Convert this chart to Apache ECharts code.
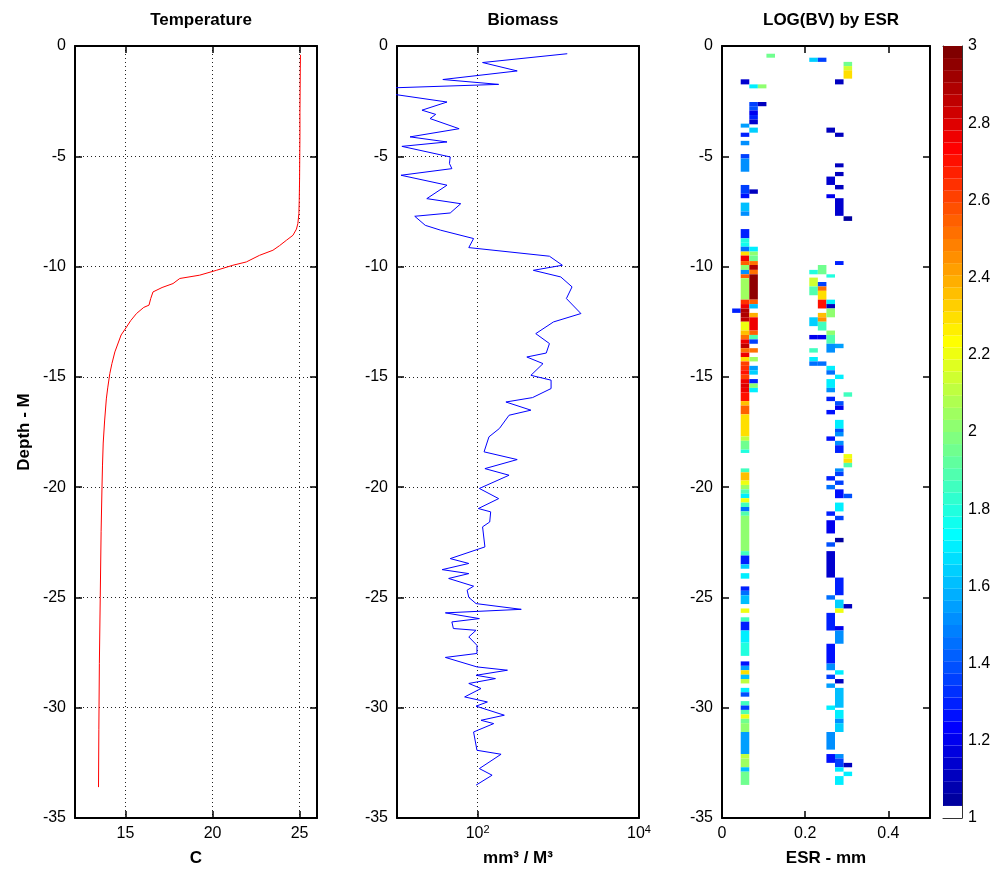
<!DOCTYPE html>
<html><head><meta charset="utf-8">
<script src="https://cdn.jsdelivr.net/npm/echarts@6/dist/echarts.min.js"></script>
<style>html,body{margin:0;padding:0;background:#fff}#c{width:999px;height:884px}</style>
</head><body><div id="c"></div>
<script>
// ---------------- DATA ----------------
const panelTitles = ['Temperature', 'Biomass', 'LOG(BV) by ESR'];
const depthTicks = {min: -35, max: 0, step: 5};
const tempTicks = [15, 20, 25];
const bioTicks = [100, 10000];
const esrTicks = [0, 0.2, 0.4];

// Temperature profile (depth in m, temperature in C)
const tempDepth = [0.4, 1, 2, 3, 4, 5, 6, 7, 7.6, 8.05, 8.3, 8.58, 8.81, 9.05, 9.26, 9.49, 9.79, 9.94, 10.17, 10.39, 10.54, 10.77, 10.95, 11.15, 11.45, 11.75, 11.85, 12.13, 12.45, 12.74, 13.1, 13.87, 14.4, 14.85, 15.5, 16, 17, 18, 19, 20, 22, 25, 28, 31, 33.6];
const tempValue = [25.05, 25.04, 25.03, 25.02, 25.02, 25.01, 25.0, 24.98, 24.96, 24.9, 24.82, 24.62, 24.24, 23.85, 23.47, 22.7, 21.94, 21.17, 20.22, 19.26, 18.12, 17.73, 17.1, 16.58, 16.45, 16.35, 16.05, 15.63, 15.3, 15.06, 14.75, 14.39, 14.22, 14.1, 13.98, 13.9, 13.8, 13.72, 13.68, 13.65, 13.6, 13.55, 13.5, 13.47, 13.45];

// Biomass profile (depth in m, mm^3 / M^3)
const bioDepth = [0.35, 0.75, 1.13, 1.52, 1.67, 1.74, 1.95, 2.54, 2.91, 3.10, 3.29, 3.75, 4.12, 4.35, 4.55, 5.03, 5.33, 5.56, 5.86, 6.31, 6.92, 7.15, 7.57, 7.72, 8.13, 8.35, 8.73, 9.14, 9.53, 9.94, 10.17, 10.47, 10.92, 11.45, 12.13, 12.51, 13.04, 13.49, 13.92, 14.10, 14.40, 14.93, 15.15, 15.53, 15.94, 16.14, 16.51, 16.74, 17.34, 17.72, 18.40, 18.75, 19.16, 19.46, 20.06, 20.52, 20.97, 21.12, 21.58, 21.80, 22.71, 23.24, 23.46, 23.74, 23.92, 24.14, 24.49, 24.67, 25.00, 25.28, 25.54, 25.70, 25.96, 26.11, 26.41, 26.49, 26.79, 27.17, 27.54, 27.72, 28.15, 28.30, 28.53, 28.68, 28.90, 29.13, 29.51, 29.74, 29.93, 30.34, 30.57, 30.72, 31.10, 31.93, 32.11, 32.76, 33.06, 33.51];
const bioValue = [1290, 115, 309, 37, 110, 182, 3.2, 41.7, 20.4, 30.2, 25.7, 58.9, 14.5, 41.7, 11.5, 45.7, 44.7, 47.9, 11.2, 41.7, 23.4, 61.7, 45.7, 16.6, 22.4, 34.7, 89, 77.6, 776, 1122, 490, 1072, 1479, 1259, 1905, 871, 525, 776, 708, 407, 646, 457, 813, 813, 479, 224, 457, 245, 186, 138, 120, 309, 123, 245, 105, 182, 102, 145, 141, 115, 123, 45.7, 77.6, 36.3, 77.6, 43.7, 89, 74, 77.6, 95.5, 347, 39.8, 105, 47.9, 50, 95.5, 77.6, 98, 98, 39.8, 98, 234, 95.5, 166, 77.6, 110, 69, 132, 95.5, 214, 110, 158, 89, 98, 195, 105, 151, 95.5];

// LOG(BV) by ESR: ESR bin centres (mm) and per-bin cells [depthTop, depthBottom, log10(BV)]
const ESR_BIN = 0.0206;
const esrCenters = [0.0347, 0.0553, 0.0759, 0.0965, 0.1171, 0.2201, 0.2407, 0.2613, 0.2819, 0.3025];
const cellsEsr0 = [[11.9, 12.1, 1.3]];
const cellsEsr1 = [[1.51,1.74,1.15],[3.52,3.70,1.55],[3.93,4.12,1.3],[4.30,4.50,1.5],[4.90,5.10,1.35],[5.10,5.70,1.5],[6.30,6.70,1.35],[6.70,6.90,1.25],[7.10,7.50,1.6],[7.50,7.70,1.5],[8.30,8.72,1.3],[8.72,8.92,1.8],[8.92,9.10,1.75],[9.10,9.32,1.45],[9.32,9.50,2.3],[9.50,9.75,2.75],[9.75,9.93,2.55],[9.93,10.15,2.0],[10.15,10.35,1.5],[10.35,10.53,2.55],[10.53,11.50,2.05],[11.50,11.70,2.65],[11.70,11.90,2.75],[11.90,12.10,2.9],[12.10,12.30,2.9],[12.30,12.50,2.85],[12.50,12.90,2.2],[12.90,13.10,2.35],[13.10,13.30,2.5],[13.30,13.50,2.75],[13.50,13.70,2.85],[13.70,13.90,2.5],[13.90,14.10,2.75],[14.10,14.30,2.3],[14.30,14.50,2.6],[14.50,14.70,2.65],[14.70,14.90,2.7],[14.90,15.10,2.6],[15.10,15.30,2.75],[15.30,15.50,2.8],[15.50,15.70,2.75],[15.70,16.10,2.7],[16.10,16.30,2.35],[16.30,16.70,2.55],[16.70,17.70,2.3],[17.70,17.90,2.1],[17.90,18.30,1.95],[18.30,18.45,1.8],[19.15,19.33,1.85],[19.33,19.70,2.35],[19.70,19.90,2.2],[19.90,20.10,2.05],[20.10,20.30,1.9],[20.30,20.50,1.7],[20.50,20.70,2.2],[20.70,20.90,1.85],[20.90,21.10,1.45],[21.10,21.30,1.9],[21.30,22.90,2.0],[22.90,23.10,1.85],[23.10,23.50,1.3],[23.50,23.70,1.65],[23.90,24.15,1.7],[24.50,24.70,1.3],[24.70,24.90,1.45],[24.90,25.30,1.6],[25.50,25.70,2.2],[25.90,26.10,1.85],[26.10,26.50,1.3],[26.50,27.05,1.7],[27.05,27.65,1.8],[27.90,28.10,1.25],[28.10,28.30,1.55],[28.30,28.50,2.3],[28.50,28.70,1.6],[28.70,28.90,2.1],[29.10,29.30,1.7],[29.30,29.50,1.4],[29.70,29.90,1.85],[29.90,30.10,1.35],[30.10,30.30,1.9],[30.30,30.50,2.2],[30.50,30.70,1.95],[30.70,31.10,2.0],[31.10,32.10,1.55],[32.10,32.30,2.1],[32.30,32.70,2.05],[32.70,32.90,1.6],[32.90,33.50,1.95]];
const cellsEsr2 = [[1.74,1.92,1.7],[2.54,2.73,1.35],[2.73,2.92,1.4],[2.92,3.13,1.2],[3.13,3.33,1.3],[3.33,3.55,1.15],[3.70,3.93,1.65],[6.50,6.70,1.1],[9.10,9.32,1.7],[9.32,9.50,2.0],[9.50,9.75,1.95],[9.75,9.93,2.5],[9.93,10.15,2.9],[10.15,10.35,2.5],[10.35,11.50,2.95],[11.50,11.70,2.55],[11.70,11.90,1.6],[12.10,12.30,2.4],[12.30,12.90,2.75],[12.90,13.10,2.55],[13.10,13.30,1.9],[13.30,13.50,1.35],[13.70,13.90,2.5],[14.10,14.30,2.05],[14.50,14.70,1.55],[14.70,14.90,1.65],[15.10,15.30,1.3],[15.30,15.50,2.0],[15.50,15.70,1.7]];
const cellsEsr3 = [[1.74,1.92,2.0],[2.54,2.73,1.1]];
const cellsEsr4 = [[0.35,0.53,1.95]];
const cellsEsr5 = [[0.53,0.72,1.65],[10.15,10.35,1.8],[10.50,10.90,2.15],[10.90,11.30,1.9],[12.30,12.70,1.65],[13.10,13.30,1.2],[13.70,13.90,1.85],[14.10,14.30,1.7],[14.30,14.50,1.45]];
const cellsEsr6 = [[0.53,0.72,1.35],[9.93,10.35,1.95],[10.70,10.90,1.35],[10.90,11.10,2.5],[11.10,11.50,2.3],[11.50,11.90,2.7],[12.10,12.30,2.35],[12.30,12.50,2.45],[12.50,12.90,1.85],[13.10,13.30,1.2],[14.30,14.50,1.45]];
const cellsEsr7 = [[3.70,3.93,1.1],[5.92,6.30,1.15],[6.72,6.90,1.2],[10.35,10.50,1.8],[11.50,11.70,1.7],[11.70,11.90,1.1],[11.90,12.30,2.0],[12.90,13.10,2.0],[13.10,13.50,1.9],[13.50,13.90,1.5],[14.50,14.70,1.7],[14.70,14.90,1.45],[15.10,15.50,1.7],[15.50,15.70,1.5],[15.90,16.10,1.3],[16.50,16.70,1.25],[17.70,17.90,1.25],[19.50,19.70,1.3],[19.90,20.10,1.45],[21.10,21.30,1.3],[21.50,22.10,1.2],[22.50,22.70,1.4],[22.90,24.10,1.15],[24.90,25.10,1.45],[25.70,26.50,1.3],[27.10,28.00,1.25],[28.00,28.30,1.5],[28.50,28.70,1.35],[28.90,29.10,1.55],[29.90,30.10,1.7],[31.10,31.90,1.5],[32.10,32.50,1.25]];
const cellsEsr8 = [[1.51,1.74,1.1],[3.93,4.12,1.1],[5.32,5.50,1.1],[5.71,5.90,1.1],[6.30,6.50,1.1],[6.90,7.70,1.15],[9.75,9.93,1.3],[13.50,13.70,1.55],[14.90,15.10,1.7],[16.10,16.30,1.4],[16.30,16.50,1.2],[16.95,17.35,1.7],[17.35,17.50,1.4],[17.50,17.70,1.5],[17.90,18.10,1.5],[18.10,18.45,1.3],[19.15,19.30,1.5],[19.30,19.50,1.35],[19.70,19.90,1.35],[20.10,20.50,1.25],[20.70,21.10,1.7],[21.30,21.50,1.35],[22.30,22.50,1.05],[24.10,24.90,1.3],[25.10,25.50,1.65],[25.50,25.70,2.2],[26.30,26.50,1.2],[26.50,27.10,1.5],[28.30,28.50,1.7],[28.70,28.90,1.1],[29.10,30.00,1.6],[30.10,30.50,1.7],[30.50,30.70,1.5],[30.70,31.10,1.65],[32.10,32.30,1.5],[32.30,32.70,1.35],[32.70,32.90,1.7],[33.10,33.50,1.7]];
const cellsEsr9 = [[0.72,0.91,1.95],[0.91,1.10,2.15],[1.10,1.48,2.3],[7.72,7.93,1.05],[15.70,15.90,1.85],[18.50,18.70,2.2],[18.70,18.90,2.3],[18.90,19.10,1.9],[20.30,20.50,1.4],[25.30,25.50,1.1],[32.50,32.70,1.1],[32.90,33.10,1.7]];
const cellsByEsr = [cellsEsr0, cellsEsr1, cellsEsr2, cellsEsr3, cellsEsr4, cellsEsr5, cellsEsr6, cellsEsr7, cellsEsr8, cellsEsr9];

// colour scale
const cbarRange = [1, 3];
const cbarStep = 0.2;
const cbarLevels = 64;

// ---------------- STYLE / BUILD ----------------
function jet(m) {
  const n = Math.ceil(m / 4), u = [];
  for (let i = 1; i <= n; i++) u.push(i / n);
  for (let i = 1; i < n; i++) u.push(1);
  for (let i = n; i >= 1; i--) u.push(i / n);
  const g0 = Math.ceil(n / 2) - (m % 4 === 1 ? 1 : 0);
  const J = Array.from({length: m}, () => [0, 0, 0]);
  u.forEach((v, k) => {
    const g = g0 + k + 1, r = g + n, b = g - n;
    if (r >= 1 && r <= m) J[r - 1][0] = v;
    if (g >= 1 && g <= m) J[g - 1][1] = v;
    if (b >= 1 && b <= m) J[b - 1][2] = v;
  });
  return J.map(c => 'rgb(' + c.map(x => Math.round(x * 255)).join(',') + ')');
}
const CMAP = jet(cbarLevels);
CMAP[0] = '#ffffff';
const span = cbarRange[1] - cbarRange[0];
const pieces = CMAP.map((c, i) => {
  const lo = cbarRange[0] + i * span / cbarLevels, hi = cbarRange[0] + (i + 1) * span / cbarLevels;
  return i === cbarLevels - 1 ? {gte: lo, lte: hi, color: c} : {gte: lo, lt: hi, color: c};
});

const FONT = 'Liberation Sans, Arial, Helvetica, sans-serif';
const grids = [
  {left: 75, top: 46, width: 242, height: 772},
  {left: 397, top: 46, width: 242, height: 772},
  {left: 722, top: 46, width: 208, height: 772},
  {left: 943, top: 46, width: 19, height: 772}
];
const axLine = {show: true, onZero: false, lineStyle: {color: '#000', width: 2}};
const tickIn = {show: true, inside: true, length: 7, lineStyle: {color: '#000', width: 1.5}};
const dotted = {show: true, lineStyle: {color: '#222', type: [1, 3], width: 1}};
const lbl = {fontSize: 16, color: '#000', fontFamily: FONT};

function depthAxes(gi, grid, withName) {
  const left = {
    type: 'value', gridIndex: gi, min: depthTicks.min, max: depthTicks.max, interval: depthTicks.step,
    axisLine: axLine, axisTick: tickIn, axisLabel: Object.assign({margin: 9}, lbl),
    splitLine: grid ? dotted : {show: false}
  };
  if (withName) Object.assign(left, {
    name: 'Depth - M', nameLocation: 'middle', nameGap: 42, nameRotate: 90,
    nameTextStyle: {fontSize: 17, fontWeight: 'bold', color: '#000', fontFamily: FONT}
  });
  const right = {
    type: 'value', gridIndex: gi, position: 'right', min: depthTicks.min, max: depthTicks.max, interval: depthTicks.step,
    axisLine: axLine, axisTick: tickIn, axisLabel: {show: false}, splitLine: {show: false}
  };
  return [left, right];
}
const nameStyle = {fontSize: 17, fontWeight: 'bold', color: '#000', fontFamily: FONT};

const xAxes = [
  {type: 'value', gridIndex: 0, min: 12.1, max: 26, axisLine: axLine,
   axisTick: Object.assign({customValues: tempTicks}, tickIn),
   axisLabel: Object.assign({customValues: tempTicks, margin: 8}, lbl), splitLine: dotted,
   name: 'C', nameLocation: 'middle', nameGap: 32, nameTextStyle: nameStyle},
  {type: 'value', gridIndex: 0, position: 'top', min: 12.1, max: 26, axisLine: axLine,
   axisTick: Object.assign({customValues: tempTicks}, tickIn), axisLabel: {show: false}, splitLine: {show: false}},
  {type: 'log', logBase: 10, gridIndex: 1, min: 10, max: 10000, axisLine: axLine,
   axisTick: Object.assign({customValues: bioTicks}, tickIn),
   axisLabel: Object.assign({customValues: bioTicks, margin: 6,
     formatter: v => '{b|10}{s|' + Math.round(Math.log10(v)) + '}',
     rich: {b: {fontSize: 16, fontFamily: FONT, color: '#000'}, s: {fontSize: 11, fontFamily: FONT, color: '#000', verticalAlign: 'top', padding: [0, 0, 8, 0]}}}, lbl),
   splitLine: dotted,
   name: 'mm³ / M³', nameLocation: 'middle', nameGap: 32, nameTextStyle: nameStyle},
  {type: 'log', logBase: 10, gridIndex: 1, position: 'top', min: 10, max: 10000, axisLine: axLine,
   axisTick: Object.assign({customValues: bioTicks}, tickIn), axisLabel: {show: false}, splitLine: {show: false}},
  {type: 'value', gridIndex: 2, min: 0, max: 0.5, axisLine: axLine,
   axisTick: Object.assign({customValues: esrTicks}, tickIn),
   axisLabel: Object.assign({customValues: esrTicks, margin: 8}, lbl), splitLine: {show: false},
   name: 'ESR - mm', nameLocation: 'middle', nameGap: 32, nameTextStyle: nameStyle},
  {type: 'value', gridIndex: 2, position: 'top', min: 0, max: 0.5, axisLine: axLine,
   axisTick: Object.assign({customValues: esrTicks}, tickIn), axisLabel: {show: false}, splitLine: {show: false}},
  {type: 'value', gridIndex: 3, min: 0, max: 1, axisLine: {show: true, onZero: false, lineStyle: {color: '#333', width: 1}},
   axisTick: {show: false}, axisLabel: {show: false}, splitLine: {show: false}},
  {type: 'value', gridIndex: 3, position: 'top', min: 0, max: 1, axisLine: {show: true, onZero: false, lineStyle: {color: '#333', width: 1}},
   axisTick: {show: false}, axisLabel: {show: false}, splitLine: {show: false}}
];
const cbTick = {show: true, inside: true, length: 4, lineStyle: {color: '#333', width: 1}};
const yAxes = [].concat(
  depthAxes(0, true, true), depthAxes(1, true, false), depthAxes(2, false, false),
  [
    {type: 'value', gridIndex: 3, position: 'right', min: cbarRange[0], max: cbarRange[1], interval: cbarStep,
     axisLine: {show: true, onZero: false, lineStyle: {color: '#333', width: 1}}, axisTick: cbTick,
     axisLabel: Object.assign({margin: 6}, lbl), splitLine: {show: false}},
    {type: 'value', gridIndex: 3, position: 'left', min: cbarRange[0], max: cbarRange[1], interval: cbarStep,
     axisLine: {show: true, onZero: false, lineStyle: {color: '#333', width: 1}}, axisTick: cbTick,
     axisLabel: {show: false}, splitLine: {show: false}}
  ]
);

const heatData = [];
cellsByEsr.forEach((cells, k) => cells.forEach(c => heatData.push([esrCenters[k], -c[0], -c[1], c[2]])));
const cbarData = CMAP.map((c, i) => {
  const lo = cbarRange[0] + i * span / cbarLevels, hi = cbarRange[0] + (i + 1) * span / cbarLevels;
  return [0.5, lo, hi, (lo + hi) / 2];
});

function rectItem(x0, y0, x1, y1, api) {
  const a = api.coord([x0, y0]), b = api.coord([x1, y1]);
  return {type: 'rect', shape: {x: Math.min(a[0], b[0]), y: Math.min(a[1], b[1]), width: Math.abs(b[0] - a[0]), height: Math.abs(b[1] - a[1])},
          style: {fill: api.visual('color')}};
}

const titleXs = [grids[0].left + grids[0].width / 2, grids[1].left + grids[1].width / 2, grids[2].left + grids[2].width / 2];
const option = {
  animation: false,
  backgroundColor: '#fff',
  textStyle: {fontFamily: FONT},
  title: panelTitles.map((t, i) => ({text: t, left: titleXs[i], top: 7, textAlign: 'center',
    textStyle: {fontSize: 17, fontWeight: 'bold', color: '#000', fontFamily: FONT}})),
  grid: grids,
  xAxis: xAxes,
  yAxis: yAxes,
  visualMap: {type: 'piecewise', show: false, dimension: 3, seriesIndex: [2, 3], pieces: pieces},
  series: [
    {type: 'line', xAxisIndex: 0, yAxisIndex: 0, showSymbol: false, clip: true,
     lineStyle: {color: '#ff0000', width: 1}, itemStyle: {color: '#ff0000'},
     data: tempValue.map((t, i) => [t, -tempDepth[i]])},
    {type: 'line', xAxisIndex: 2, yAxisIndex: 2, showSymbol: false, clip: true,
     lineStyle: {color: '#0000ff', width: 1}, itemStyle: {color: '#0000ff'},
     data: bioValue.map((v, i) => [v, -bioDepth[i]])},
    {type: 'custom', xAxisIndex: 4, yAxisIndex: 4, clip: true, encode: {x: 0, y: [1, 2]},
     renderItem: (p, api) => rectItem(api.value(0) - ESR_BIN / 2, api.value(1), api.value(0) + ESR_BIN / 2, api.value(2), api),
     data: heatData},
    {type: 'custom', xAxisIndex: 6, yAxisIndex: 6, encode: {x: 0, y: [1, 2]},
     renderItem: (p, api) => rectItem(0, api.value(1), 1, api.value(2), api),
     data: cbarData}
  ]
};
const chart = echarts.init(document.getElementById('c'), null, {renderer: 'canvas'});
chart.setOption(option);
</script></body></html>
